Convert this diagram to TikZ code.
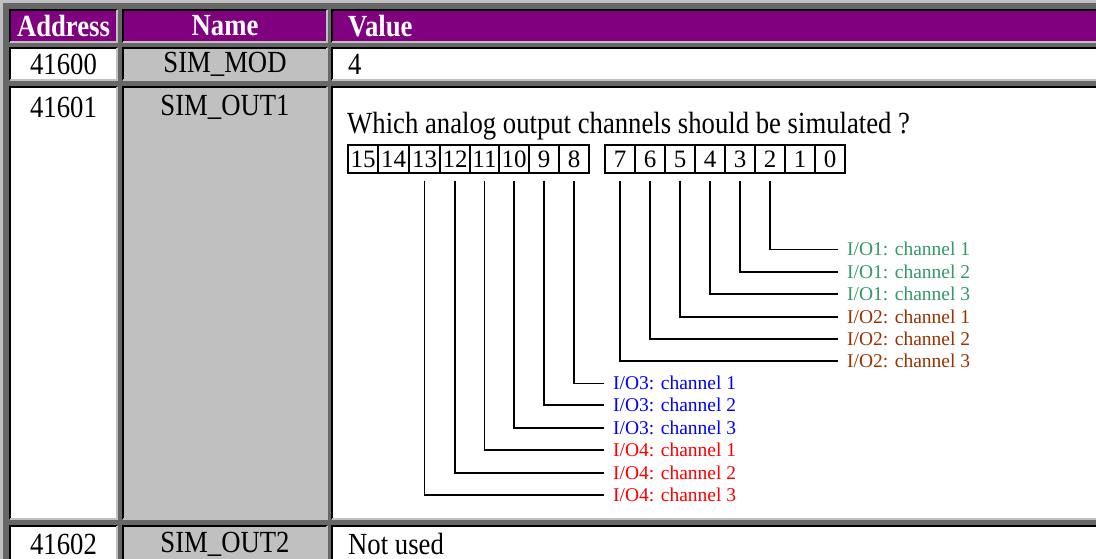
\documentclass[tikz,border=0pt]{standalone}
\usepackage{fontspec}
\setmainfont{Liberation Serif}
\definecolor{tblgray}{HTML}{676767}
\definecolor{lgray}{HTML}{C0C0C0}
\definecolor{hdrpurple}{HTML}{800080}
\definecolor{iogreen}{HTML}{339966}
\definecolor{iobrown}{HTML}{993300}
\definecolor{ioblue}{HTML}{0000FF}
\definecolor{iored}{HTML}{FF0000}
\newcommand\tcell[5]{%
  \fill[#5] (#1,#2) rectangle (#3,#4);
  \draw[black,line width=1.6pt] (#1,#4) -- (#1,#2) -- (#3,#2);
  \draw[lgray,line width=1.6pt] (#1,#4) -- (#3,#4) -- (#3,#2);
}
\newcommand\tallt[1]{\scalebox{1}[1.15]{#1}}
\tikzset{
  hdr/.style={text=white,font=\fontsize{26.7}{30}\selectfont\bfseries,inner sep=0pt},
  cellt/.style={font=\fontsize{26.7}{30}\selectfont,inner sep=0pt},
  bitbox/.style={draw,line width=1.4pt,minimum width=30pt,minimum height=28pt,inner sep=0pt,font=\fontsize{25}{28}\selectfont},
  lbl/.style={anchor=west,inner xsep=9pt,inner ysep=0pt,font=\fontsize{19.5}{22}\selectfont},
  wire/.style={line width=1.6pt}
}
\begin{document}
\begin{tikzpicture}[x=1pt,y=-1pt]
\useasboundingbox (0,0) rectangle (1096,559);
\clip (0,0) rectangle (1096,559);
\fill[tblgray] (0,0) rectangle (1096,559);
\fill[lgray] (0,0) rectangle (1100,3);
\fill[lgray] (0,0) rectangle (3,570);
% header row
\tcell{10}{10}{117}{42}{hdrpurple}
\tcell{123}{10}{327}{42}{hdrpurple}
\tcell{332}{10}{1110}{42}{hdrpurple}
% row 1
\tcell{10}{48}{117}{80}{white}
\tcell{123}{48}{327}{80}{lgray}
\tcell{332}{48}{1110}{80}{white}
% row 2
\tcell{10}{87}{117}{519}{white}
\tcell{123}{87}{327}{519}{lgray}
\tcell{332}{87}{1110}{519}{white}
% row 3
\tcell{10}{526}{117}{580}{white}
\tcell{123}{526}{327}{580}{lgray}
\tcell{332}{526}{1110}{580}{white}
% header texts
\node[hdr] (hA) at (63.5,26) {\tallt{Address}};
\node[hdr] (hN) at (225,26) {\tallt{Name}};
\node[hdr,anchor=west] (hV) at (348,26) {\tallt{Value}};
% row texts
\node[cellt] (a1) at (63.5,64) {\tallt{41600}};
\node[cellt] (n1) at (225,64) {\tallt{SIM\_MOD}};
\node[cellt,anchor=west] (v1) at (348,64) {\tallt{4}};
\node[cellt] (a2) at (63.5,107) {\tallt{41601}};
\node[cellt] (n2) at (225,107) {\tallt{SIM\_OUT1}};
\node[cellt,anchor=west] (v2) at (347,126) {\tallt{Which analog output channels should be simulated ?}};
\node[cellt] (a3) at (63.5,544) {\tallt{41602}};
\node[cellt] (n3) at (225,544) {\tallt{SIM\_OUT2}};
\node[cellt,anchor=west] (v3) at (348,544) {\tallt{Not used}};
% bit boxes
\foreach \b/\x in {15/363,14/393.5,13/424.5,12/455,11/484.5,10/514,9/544,8/574,
                   7/620,6/650,5/680,4/710,3/740,2/770,1/800,0/830}{
  \node[bitbox] (b\b) at (\x,159) {\b};
}
% labels
\node[lbl,text=iogreen] (l2) at (838,249.3) {I/O1: channel 1};
\node[lbl,text=iogreen] (l3) at (838,271.7) {I/O1: channel 2};
\node[lbl,text=iogreen] (l4) at (838,294) {I/O1: channel 3};
\node[lbl,text=iobrown] (l5) at (838,316.7) {I/O2: channel 1};
\node[lbl,text=iobrown] (l6) at (838,338.7) {I/O2: channel 2};
\node[lbl,text=iobrown] (l7) at (838,360.7) {I/O2: channel 3};
\node[lbl,text=ioblue] (l8) at (604,383.3) {I/O3: channel 1};
\node[lbl,text=ioblue] (l9) at (604,405) {I/O3: channel 2};
\node[lbl,text=ioblue] (l10) at (604,428) {I/O3: channel 3};
\node[lbl,text=iored] (l11) at (604,450) {I/O4: channel 1};
\node[lbl,text=iored] (l12) at (604,473) {I/O4: channel 2};
\node[lbl,text=iored] (l13) at (604,495) {I/O4: channel 3};
% wires
\foreach \b in {2,...,13}{
  \draw[wire] ([yshift=-7pt]b\b.south) |- (l\b.west);
}
\end{tikzpicture}
\end{document}
